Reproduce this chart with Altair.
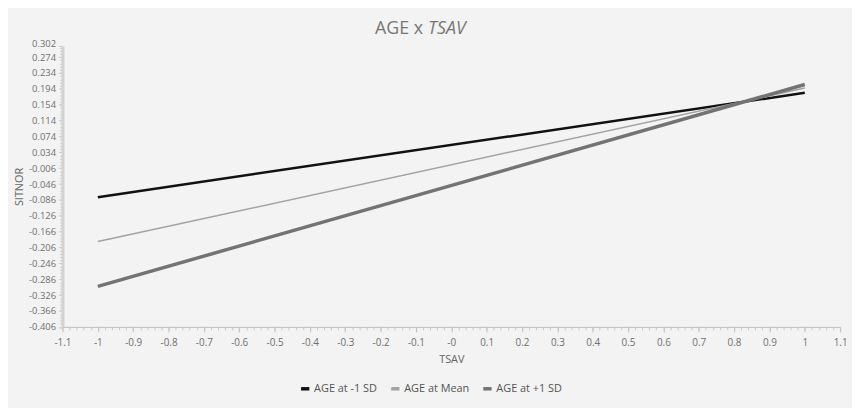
import altair as alt
import pandas as pd

# ---- data ----
tsav = [-1, 1]
age_minus1 = [-0.079, 0.184]
age_mean = [-0.191, 0.196]
age_plus1 = [-0.304, 0.205]
series_names = ["AGE at -1 SD", "AGE at Mean", "AGE at +1 SD"]
series_colors = ["#111111", "#a3a3a3", "#737373"]
series_widths = [2.5, 1.5, 3.5]

x_ticks = [-1.1, -1, -0.9, -0.8, -0.7, -0.6, -0.5, -0.4, -0.3, -0.2, -0.1, 0,
           0.1, 0.2, 0.3, 0.4, 0.5, 0.6, 0.7, 0.8, 0.9, 1, 1.1]
y_ticks = [0.302, 0.274, 0.234, 0.194, 0.154, 0.114, 0.074, 0.034, -0.006, -0.046,
           -0.086, -0.126, -0.166, -0.206, -0.246, -0.286, -0.326, -0.366, -0.406]
x_minor = [round(-1.1 + 0.02 * i, 2) for i in range(111)]
y_minor = [round(-0.406 + 0.008 * i, 3) for i in range(89)]

rows = []
for name, vals, w in zip(series_names, [age_minus1, age_mean, age_plus1], series_widths):
    for xv, yv in zip(tsav, vals):
        rows.append({"TSAV": xv, "SITNOR": yv, "series": name, "w": w})
df = pd.DataFrame(rows)

FONT = "Open Sans"
LABEL = "#707070"

xscale = alt.Scale(domain=[-1.1, 1.1], nice=False, zero=False)
yscale = alt.Scale(domain=[-0.406, 0.302], nice=False, zero=False)

lines = alt.Chart(df).mark_line().encode(
    x=alt.X("TSAV:Q", scale=xscale,
            axis=alt.Axis(values=x_ticks, title="TSAV", grid=False,
                          labelExpr="datum.value == 0 ? '-0' : replace(format(datum.value, '.2~f'), '\u2212', '-')",
                          domainColor="#bdbdbd", domainWidth=1, tickColor="#bdbdbd",
                          tickSize=5, labelPadding=6, titlePadding=6,
                          labelFontSize=10, titleFontSize=11, labelColor=LABEL,
                          titleColor="#666666", titleFontWeight="normal", labelFont=FONT,
                          titleFont=FONT, labelFlush=False)),
    y=alt.Y("SITNOR:Q", scale=yscale,
            axis=alt.Axis(values=y_ticks, title="SITNOR", grid=False,
                          labelExpr="replace(format(datum.value, '.3f'), '\u2212', '-')",
                          labelBaseline=alt.ExprRef(expr="datum.value > 0.3 ? 'alphabetic' : 'middle'"),
                          domainColor="#d2d2d2", domainWidth=3, tickColor="#c8c8c8",
                          tickSize=4, labelPadding=3, titlePadding=4,
                          labelFontSize=9.5, titleFontSize=11, labelColor=LABEL,
                          titleColor="#666666", titleFontWeight="normal", labelFont=FONT,
                          titleFont=FONT, labelFlush=False, labelOverlap=False)),
    color=alt.Color("series:N", scale=alt.Scale(domain=series_names, range=series_colors),
                    legend=alt.Legend(title=None, orient="none", legendX=239, legendY=340,
                                      direction="horizontal", symbolType="stroke",
                                      symbolSize=70, symbolStrokeWidth=3.5,
                                      labelFontSize=11, labelColor="#555555",
                                      labelFont=FONT, columnPadding=6, symbolOffset=0,
                                      labelOffset=3)),
    strokeWidth=alt.StrokeWidth("w:Q", scale=None, legend=None),
)

minor_df = pd.DataFrame({"TSAV": tsav, "SITNOR": age_mean})
minor = alt.Chart(minor_df).mark_point(opacity=0).encode(
    x=alt.X("TSAV:Q", scale=xscale,
            axis=alt.Axis(values=x_minor, labels=False, title=None, grid=False, domain=False,
                          tickColor="#c8c8c8", tickSize=3, orient="bottom")),
    y=alt.Y("SITNOR:Q", scale=yscale,
            axis=alt.Axis(values=y_minor, labels=False, title=None, grid=False, domain=False,
                          tickColor="#d0d0d0", tickSize=3, orient="left")),
)

title_df = pd.DataFrame({"a": [0]})
t1 = alt.Chart(title_df).mark_text(align="right", baseline="alphabetic", fontSize=18,
                                    font=FONT, color="#777777").encode(
    x=alt.value(364), y=alt.value(-12), text=alt.value("AGE x"))
t2 = alt.Chart(title_df).mark_text(align="left", baseline="alphabetic", fontSize=18,
                                    font=FONT, color="#777777", fontStyle="italic").encode(
    x=alt.value(369), y=alt.value(-12), text=alt.value("TSAV"))

chart = alt.layer(lines, minor, t1, t2).resolve_axis(
    x="independent", y="independent"
).properties(
    width=785, height=283.5,
    autosize=alt.AutoSizeParams(type="none"),
    padding={"left": 55, "top": 36.5, "right": 12, "bottom": 80},
    background="#f3f3f3",
).configure_view(stroke=None)

chart.save("out.html", embed_options={"renderer": "svg", "actions": False})
